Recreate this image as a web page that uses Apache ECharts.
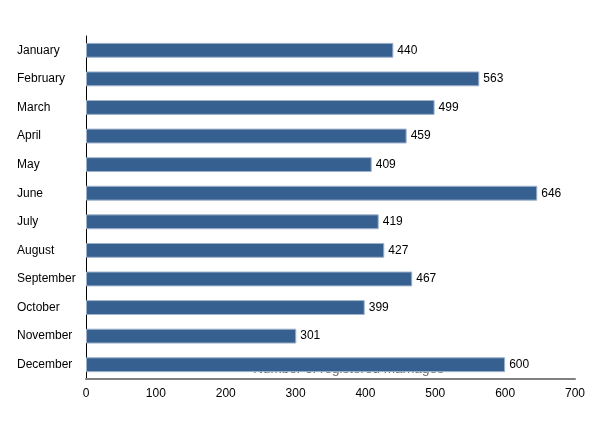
<!DOCTYPE html>
<html>
<head>
<meta charset="utf-8">
<script src="https://cdn.jsdelivr.net/npm/echarts@6/dist/echarts.min.js"></script>
<style>html,body{margin:0;padding:0;background:#fff}#c{width:600px;height:436px}</style>
</head>
<body>
<div id="c"></div>
<script>
const months = ['January','February','March','April','May','June','July','August','September','October','November','December'];
const marriages = [440,563,499,459,409,646,419,427,467,399,301,600];
const xAxisName = 'Number of registered marriages';

const chart = echarts.init(document.getElementById('c'), null, {renderer: 'canvas'});
chart.setOption({
  animation: false,
  backgroundColor: '#ffffff',
  textStyle: {fontFamily: 'Liberation Sans, Arial, sans-serif'},
  grid: {left: 86, right: 25, top: 36, bottom: 57, containLabel: false},
  xAxis: {
    type: 'value', min: 0, max: 700, interval: 100,
    z: 0,
    name: xAxisName, nameLocation: 'middle', nameGap: -17, nameMoveOverlap: false,
    nameTextStyle: {color: '#666666', fontSize: 13.5, padding: [0, 0, 0, 36]},
    axisLine: {show: true, lineStyle: {color: '#808080', width: 2}},
    axisTick: {show: false},
    splitLine: {show: false},
    axisLabel: {color: '#000000', fontSize: 12, margin: 9}
  },
  yAxis: {
    type: 'category', data: months, inverse: true,
    axisLine: {show: true, lineStyle: {color: '#000000', width: 1}},
    axisTick: {show: false},
    axisLabel: {color: '#000000', fontSize: 12, align: 'left', margin: 69}
  },
  series: [{
    type: 'bar', data: marriages, barWidth: '52%', z: 2,
    itemStyle: {color: '#36608f', borderColor: '#9fb3cc', borderWidth: 1},
    label: {show: true, position: 'right', distance: 4, color: '#000000', fontSize: 12}
  }]
});
</script>
</body>
</html>
